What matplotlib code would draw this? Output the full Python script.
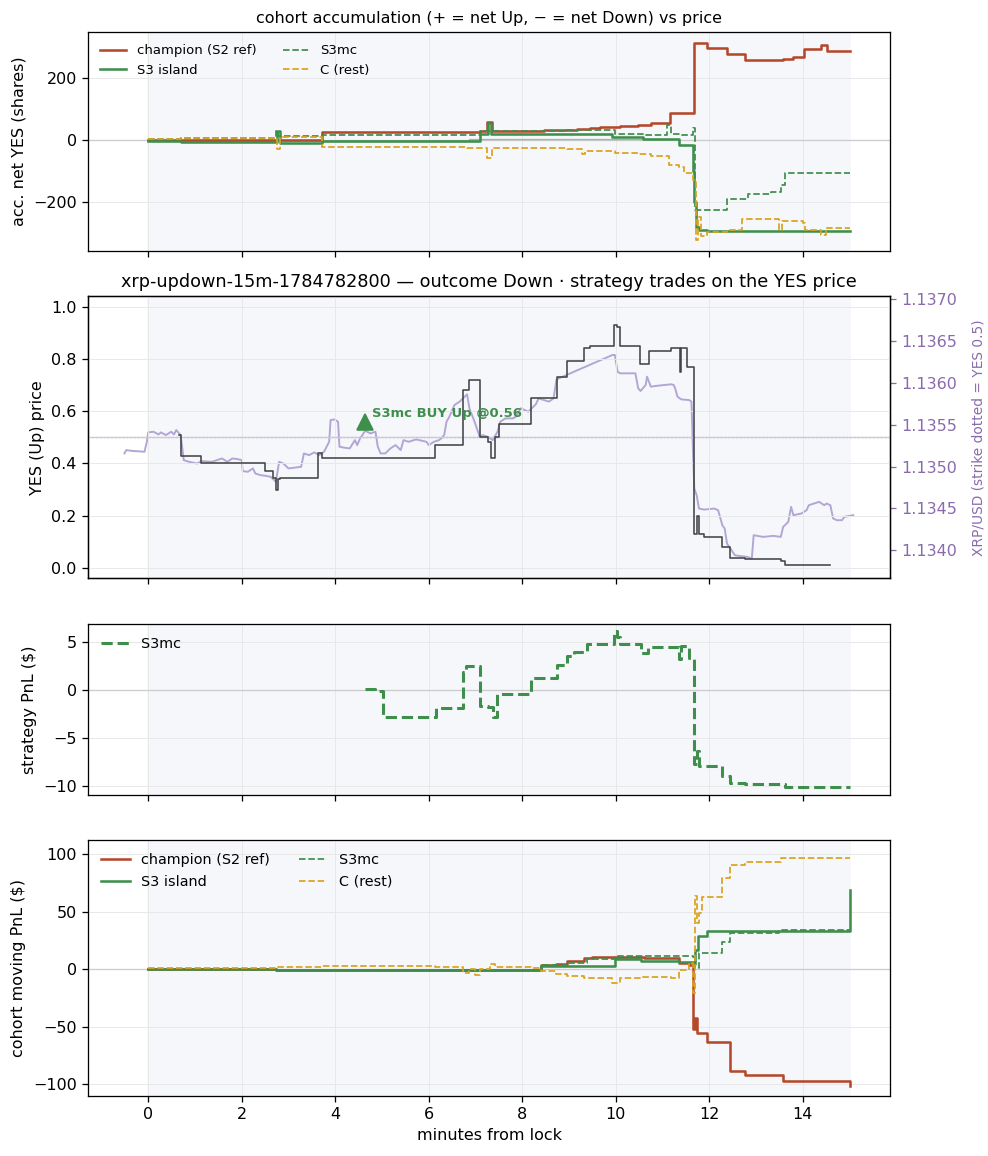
import numpy as np
import matplotlib.pyplot as plt
from matplotlib.ticker import MultipleLocator, FormatStrFormatter

# --- colours
C_CHAMP = '#b5472a'
C_S3 = '#3e8e4c'
C_REST = '#dba21e'
C_PRICE = '#444444'
C_XRP = '#b3a5d4'
C_XRP_AX = '#8a6aac'

# --- panel 1: accumulated net YES shares
champ_t = [0, 3.71, 7.09, 7.25, 7.35, 8.46, 8.95, 9.17, 9.44, 9.66, 10.09, 10.47, 10.75, 11.15, 11.67, 11.95, 12.38, 12.77, 13.58, 13.80, 14.02, 14.40, 14.51, 15.0]
champ_v = [0, 25, 28, 58, 30, 32, 34, 37, 40, 43, 46, 49, 54, 86, 315, 296, 277, 258, 263, 269, 293, 306, 288, 288]

s3_t = [0, 0.71, 2.75, 2.82, 3.71, 7.09, 7.26, 7.33, 9.93, 10.58, 11.35, 11.65, 11.68, 11.72, 11.77, 11.95, 15.0]
s3_v = [-2, -5, 30, -8, -2, 18, 55, 18, 11, 2, -16, -100, -200, -280, -290, -295, -295]

s3thin_t = [0, 6.87, 11.07]
s3thin_v = [-3, 3, 3]

s3mc_t = [0, 0.71, 2.73, 2.78, 3.71, 7.09, 8.95, 9.98, 10.64, 11.10, 11.18, 11.40, 11.65, 11.70, 11.84, 12.38, 12.82, 13.31, 13.53, 13.61, 15.0]
s3mc_v = [2, 8, 30, 13, 15, 30, 34, 20, 16, 48, 18, 15, 40, -226, -226, -190, -175, -167, -145, -105, -105]

rest_t = [0, 0.71, 2.75, 2.82, 3.71, 6.82, 7.25, 7.35, 8.95, 9.28, 9.34, 9.98, 10.47, 10.75, 11.13, 11.35, 11.45, 11.65, 11.72, 11.76, 11.82, 11.95, 12.38, 12.71, 13.50, 13.56, 14.0, 14.05, 14.40, 14.50, 15.0]
rest_v = [2, 8, -30, 10, -24, -27, -59, -27, -30, -45, -34, -41, -45, -52, -81, -86, -107, -129, -322, -250, -310, -296, -290, -256, -290, -263, -269, -290, -306, -285, -285]

# --- panel 2: YES price and XRP spot
yes_t = [0.66, 0.71, 1.12, 2.49, 2.67, 2.73, 2.78, 2.82, 3.63, 3.71, 6.14, 6.73, 6.87, 7.09, 7.26, 7.34, 7.42, 7.51, 8.18, 8.75, 8.95, 9.33, 9.44, 9.96, 10.02, 10.09, 10.51, 10.72, 11.18, 11.37, 11.40, 11.53, 11.67, 11.73, 11.78, 11.89, 12.28, 12.44, 12.77, 13.53, 13.61, 14.59]
yes_v = [0.51, 0.43, 0.40, 0.37, 0.345, 0.30, 0.34, 0.345, 0.44, 0.42, 0.47, 0.68, 0.72, 0.50, 0.48, 0.42, 0.50, 0.55, 0.65, 0.73, 0.79, 0.84, 0.85, 0.93, 0.92, 0.85, 0.78, 0.83, 0.84, 0.75, 0.84, 0.77, 0.13, 0.20, 0.13, 0.12, 0.08, 0.04, 0.035, 0.025, 0.01, 0.01]

xrp_t = [-0.51, -0.47, -0.38, -0.08, -0.03, 0.0, 0.11, 0.22, 0.27, 0.38, 0.49, 0.55, 0.60, 0.69, 0.73, 0.76, 0.87, 1.04, 1.15, 1.36, 1.47, 1.58, 1.69, 1.80, 1.91, 2.00, 2.02, 2.13, 2.24, 2.29, 2.40, 2.51, 2.62, 2.73, 2.80, 2.89, 3.00, 3.11, 3.27, 3.33, 3.44, 3.55, 3.66, 3.76, 3.87, 3.90, 3.98, 4.06, 4.09, 4.20, 4.31, 4.42, 4.47, 4.53, 4.58, 4.64, 4.75, 4.86, 4.91, 4.97, 5.07, 5.18, 5.29, 5.40, 5.46, 5.57, 5.73, 5.95, 6.00, 6.11, 6.22, 6.27, 6.33, 6.38, 6.44, 6.55, 6.66, 6.82, 6.87, 6.98, 7.09, 7.15, 7.26, 7.37, 7.47, 7.53, 7.64, 7.80, 7.86, 7.97, 8.13, 8.29, 8.35, 8.46, 8.57, 8.67, 8.73, 8.78, 9.93, 9.98, 10.04, 10.09, 10.42, 10.48, 10.53, 10.64, 10.67, 10.75, 10.91, 11.18, 11.24, 11.27, 11.32, 11.40, 11.57, 11.62, 11.65, 11.68, 11.73, 11.78, 11.89, 12.11, 12.19, 12.28, 12.33, 12.38, 12.55, 12.82, 12.91, 12.95, 13.15, 13.37, 13.53, 13.58, 13.69, 13.75, 13.80, 13.97, 14.08, 14.13, 14.24, 14.35, 14.46, 14.51, 14.59, 14.65, 14.73, 14.84, 14.89, 15.00, 15.08]
xrp_v = [1.135157, 1.135197, 1.135189, 1.135177, 1.135296, 1.135408, 1.135416, 1.135384, 1.135408, 1.135376, 1.135416, 1.135384, 1.135436, 1.135376, 1.135217, 1.135077, 1.135057, 1.135037, 1.135065, 1.135057, 1.135077, 1.135097, 1.135057, 1.135097, 1.135089, 1.135077, 1.134946, 1.134938, 1.134978, 1.134918, 1.134898, 1.134890, 1.134878, 1.134818, 1.135057, 1.135037, 1.134978, 1.134986, 1.134997, 1.135157, 1.135137, 1.135169, 1.135137, 1.135177, 1.135296, 1.135555, 1.135563, 1.135535, 1.135237, 1.135225, 1.135217, 1.135316, 1.135256, 1.135336, 1.135376, 1.135428, 1.135396, 1.135416, 1.135237, 1.135157, 1.135157, 1.135217, 1.135256, 1.135197, 1.135316, 1.135296, 1.135324, 1.135296, 1.135256, 1.135296, 1.135316, 1.135336, 1.135376, 1.135535, 1.135595, 1.135735, 1.135775, 1.135862, 1.135695, 1.135535, 1.135356, 1.135376, 1.135356, 1.135316, 1.135416, 1.135535, 1.135575, 1.135575, 1.135595, 1.135695, 1.135655, 1.135743, 1.135814, 1.135794, 1.135775, 1.135814, 1.136034, 1.136053, 1.136332, 1.136332, 1.136133, 1.136113, 1.136113, 1.135934, 1.135902, 1.135974, 1.136073, 1.135954, 1.135966, 1.135982, 1.135974, 1.135934, 1.135834, 1.135802, 1.135794, 1.135775, 1.135217, 1.134738, 1.134659, 1.134499, 1.134487, 1.134499, 1.134479, 1.134300, 1.134260, 1.134081, 1.133941, 1.133921, 1.133902, 1.134181, 1.134161, 1.134173, 1.134161, 1.134280, 1.134340, 1.134519, 1.134420, 1.134440, 1.134479, 1.134539, 1.134559, 1.134579, 1.134539, 1.134559, 1.134539, 1.134380, 1.134360, 1.134360, 1.134400, 1.134412, 1.134420]

strike = 1.13535
buy_t, buy_p = 4.64, 0.56

# --- panel 3: strategy PnL
pnl_t = [4.64, 4.85, 5.02, 6.16, 6.73, 6.80, 7.09, 7.26, 7.37, 7.47, 8.18, 8.75, 8.95, 9.11, 9.38, 9.96, 10.02, 10.09, 10.53, 10.69, 11.35, 11.40, 11.57, 11.67, 11.73, 11.78, 12.27, 12.44, 12.77, 13.53, 13.61, 15.0]
pnl_v = [0.1, -0.1, -2.8, -1.8, 1.9, 2.5, -1.6, -1.75, -2.8, -0.4, 1.3, 2.6, 3.6, 4.0, 4.8, 6.1, 5.5, 4.8, 3.9, 4.5, 3.2, 4.6, 3.3, -7.7, -6.3, -7.9, -8.9, -9.6, -9.7, -9.75, -10.1, -10.1]

# --- panel 4: cohort moving PnL
champ_pnl_t = [0, 2.73, 8.40, 8.73, 8.95, 9.33, 9.49, 10.6, 11.35, 11.57, 11.65, 11.70, 11.74, 11.95, 12.44, 12.77, 13.58, 14.98, 15.0]
champ_pnl_v = [0, -1, 3.8, 4.4, 7.6, 9.7, 10.6, 10.0, 5.3, 3.8, -52, -42, -55, -63, -88, -92, -97, -97, -101]

s3_pnl_t = [0, 2.73, 8.40, 9.98, 10.53, 11.35, 11.65, 11.70, 11.75, 11.95, 14.99, 15.0]
s3_pnl_v = [0, -1, 3, 8.8, 7.6, 6.8, 5, 17, 29, 33.5, 33.5, 69]

s3mc_pnl_t = [0, 2.73, 8.40, 8.95, 9.38, 9.98, 11.65, 11.70, 11.78, 12.27, 12.44, 13.50, 15.0]
s3mc_pnl_v = [0, -1, 3.8, 5.3, 9.4, 11.8, 11.0, 1, 14, 23.5, 31.8, 34.5, 34.5]

rest_pnl_t = [0, 2.73, 3.71, 6.14, 6.73, 6.87, 6.98, 7.09, 7.31, 7.42, 8.18, 8.40, 8.73, 8.95, 9.33, 9.93, 10.09, 10.53, 11.18, 11.35, 11.57, 11.65, 11.69, 11.73, 11.78, 11.84, 12.27, 12.44, 12.77, 13.53, 15.0]
rest_pnl_v = [1, 1.8, 2.9, 1.8, -3.5, 0, -5, 0, 4.7, 1.8, 0.9, -1.5, -4.1, -5.9, -7.9, -11.8, -7.9, -7, -7.5, -0.6, 5.3, -21, 64, 40, 49, 63, 79, 91, 93, 97, 97]

SPAN = '#f5f7fb'


def style(ax, span=True):
    if span:
        ax.axvspan(0, 15, color=SPAN, zorder=0)
    ax.grid(True, color='#e8e8e8', lw=0.6, zorder=0)
    ax.set_axisbelow(True)


DPI = 115
fig, axs = plt.subplots(4, 1, figsize=(988 / DPI, 1156 / DPI), sharex=True,
                        gridspec_kw={'height_ratios': [219, 283, 172, 256]})
fig.subplots_adjust(left=0.089, right=0.901, top=0.972, bottom=0.052, hspace=0.195)

# panel 1
ax = axs[0]
style(ax)
ax.axhline(0, color='#cccccc', lw=0.8)
ax.step(champ_t, champ_v, where='post', color=C_CHAMP, lw=1.6, label='champion (S2 ref)')
ax.step(s3_t, s3_v, where='post', color=C_S3, lw=1.6, label='S3 island')
ax.step(s3thin_t, s3thin_v, where='post', color=C_S3, lw=0.8, alpha=0.5)
ax.step(s3mc_t, s3mc_v, where='post', color=C_S3, lw=1.1, ls='--', label='S3mc')
ax.step(rest_t, rest_v, where='post', color=C_REST, lw=1.1, ls='--', label='C (rest)')
ax.set_ylim(-358, 348)
ax.set_ylabel('acc. net YES (shares)')
ax.set_title('cohort accumulation (+ = net Up, \u2212 = net Down) vs price', fontsize=10)
ax.legend(loc='upper left', ncol=2, fontsize=8.3, frameon=False)

# panel 2
ax = axs[1]
style(ax, span=False)
ax.axhline(0.5, color='#cccccc', lw=0.8)
ax2 = ax.twinx()
ax2.axvspan(0, 15, color=SPAN, zorder=0)
ax2.plot(xrp_t, xrp_v, color=C_XRP, lw=1.2, zorder=1)
ax2.axhline(strike, color=C_XRP, lw=0.9, ls=':')
ax2.set_ylim(strike - 0.54 * 0.00312, strike + 0.54 * 0.00312)
ax2.set_ylabel('XRP/USD (strike dotted = YES 0.5)', color=C_XRP_AX, fontsize=8.6, labelpad=9)
ax2.tick_params(axis='y', colors=C_XRP_AX)
ax2.yaxis.set_major_formatter(FormatStrFormatter('%.4f'))
ax.set_zorder(ax2.get_zorder() + 1)
ax.patch.set_visible(False)
ax.step(yes_t, yes_v, where='post', color=C_PRICE, lw=1.0)
ax.plot([buy_t], [buy_p], marker='^', color=C_S3, markersize=10, ls='none')
ax.annotate('S3mc BUY Up @%.2f' % buy_p, (buy_t, buy_p), xytext=(4, 1),
            textcoords='offset points', color=C_S3, fontsize=8.2, fontweight='bold', va='bottom')
ax.set_ylim(-0.04, 1.04)
ax.set_ylabel('YES (Up) price')
ax.set_title('xrp-updown-15m-1784782800 \u2014 outcome Down \u00b7 strategy trades on the YES price', fontsize=11)

# panel 3
ax = axs[2]
style(ax)
ax.axhline(0, color='#cccccc', lw=0.8)
ax.step(pnl_t, pnl_v, where='post', color=C_S3, lw=1.9, ls='--', label='S3mc')
ax.set_ylabel('strategy PnL ($)')
ax.yaxis.set_major_locator(MultipleLocator(5))
ax.legend(loc='upper left', fontsize=9, frameon=False)

# panel 4
ax = axs[3]
style(ax)
ax.axhline(0, color='#cccccc', lw=0.8)
ax.step(champ_pnl_t, champ_pnl_v, where='post', color=C_CHAMP, lw=1.6, label='champion (S2 ref)')
ax.step(s3_pnl_t, s3_pnl_v, where='post', color=C_S3, lw=1.6, label='S3 island')
ax.step(s3mc_pnl_t, s3mc_pnl_v, where='post', color=C_S3, lw=1.1, ls='--', label='S3mc')
ax.step(rest_pnl_t, rest_pnl_v, where='post', color=C_REST, lw=1.1, ls='--', label='C (rest)')
ax.set_ylim(-110, 112)
ax.yaxis.set_major_locator(MultipleLocator(50))
ax.set_ylabel('cohort moving PnL ($)')
ax.set_xlabel('minutes from lock')
ax.legend(loc='upper left', ncol=2, fontsize=9, frameon=False)

axs[0].yaxis.set_major_locator(MultipleLocator(200))
axs[3].set_xlim(-1.29, 15.87)
axs[3].set_xticks([0, 2, 4, 6, 8, 10, 12, 14])

fig.savefig('out.png', dpi=DPI)
